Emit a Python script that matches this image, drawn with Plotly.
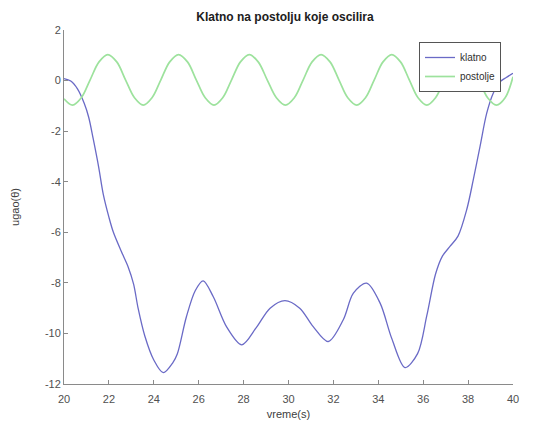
import plotly.graph_objects as go

# klatno (pendulum) angle
klatno_t = [20.0, 20.3, 20.6, 20.9, 21.1, 21.3, 21.55, 21.75, 22.0, 22.2, 22.55, 22.85,
            23.1, 23.3, 23.6, 24.0, 24.42, 24.85, 25.05, 25.45, 25.85, 26.2, 26.65,
            27.25, 27.92, 28.58, 29.18, 29.84, 30.5, 31.1, 31.77, 32.44, 32.89, 33.48,
            34.08, 34.6, 35.19, 35.75, 36.16, 36.55, 36.85, 37.2, 37.55, 37.94, 38.23,
            38.53, 38.83, 39.12, 39.42, 39.7, 40.0]
klatno_y = [0.08, -0.02, -0.33, -0.9, -1.45, -2.3, -3.45, -4.5, -5.4, -6.0, -6.75, -7.35,
            -8.05, -9.0, -10.1, -11.05, -11.55, -11.15, -10.8, -9.35, -8.3, -7.92, -8.55,
            -9.75, -10.45, -9.75, -9.0, -8.7, -9.0, -9.73, -10.32, -9.46, -8.41, -8.01,
            -8.8, -10.2, -11.35, -10.8, -9.3, -7.65, -6.95, -6.55, -6.15, -5.1, -3.93,
            -2.61, -1.29, -0.5, -0.05, 0.12, 0.29]

# postolje (base) oscillation
postolje_t = [20.0, 20.38, 20.77, 21.165, 21.56, 21.95, 22.35, 22.74, 23.14, 23.53, 23.92,
              24.315, 24.71, 25.10, 25.50, 25.89, 26.29, 26.68, 27.07, 27.465, 27.86, 28.25,
              28.65, 29.05, 29.46, 29.86, 30.26, 30.655, 31.05, 31.45, 31.85, 32.245, 32.64,
              33.04, 33.43, 33.82, 34.21, 34.60, 34.99, 35.38, 35.77, 36.16, 36.55, 36.94,
              37.33, 37.72, 38.10, 38.49, 38.87, 39.26, 39.65, 40.0]
postolje_y = [-0.72, -0.97, -0.68, 0.03, 0.74, 1.03, 0.74, 0.03, -0.68, -0.97, -0.68,
              0.03, 0.74, 1.03, 0.74, 0.03, -0.68, -0.97, -0.68, 0.03, 0.74, 1.03,
              0.74, 0.03, -0.68, -0.97, -0.68, 0.03, 0.74, 1.03, 0.74, 0.03, -0.68,
              -0.97, -0.68, 0.03, 0.74, 1.03, 0.74, 0.03, -0.68, -0.97, -0.68, 0.03,
              0.74, 1.03, 0.74, 0.03, -0.68, -0.97, -0.68, 0.15]

x_ticks = [20, 22, 24, 26, 28, 30, 32, 34, 36, 38, 40]
y_ticks = [-12, -10, -8, -6, -4, -2, 0, 2]

FONT = "Liberation Sans, Arial, sans-serif"

fig = go.Figure()
fig.add_trace(go.Scatter(x=klatno_t, y=klatno_y, mode="lines", name="klatno",
                         line=dict(color="#6a6ac6", width=1.3, shape="spline", smoothing=0.9)))
fig.add_trace(go.Scatter(x=postolje_t, y=postolje_y, mode="lines", name="postolje",
                         line=dict(color="#9de29d", width=1.7, shape="spline", smoothing=1.0)))

axis_common = dict(showgrid=False, zeroline=False, showline=True, linecolor="#8a8a8a",
                   linewidth=1, ticks="inside", ticklen=4, tickcolor="#8a8a8a",
                   tickfont=dict(family=FONT, size=11, color="#505050"), mirror=False,
                   automargin=False)

# the page body has an 8px default margin, so the figure is drawn 8px smaller
W, H = 525, 426
fig.update_layout(
    width=W, height=H,
    margin=dict(l=56, r=20, t=22, b=50, autoexpand=False),
    paper_bgcolor="white", plot_bgcolor="white",
    title=dict(text="<b>Klatno na postolju koje oscilira</b>", x=277 / W,
               xanchor="center", y=1 - 9 / H, yanchor="middle", yref="container",
               font=dict(family=FONT, size=12, color="#202020")),
    xaxis=dict(range=[20, 40], tickvals=x_ticks, ticktext=[str(v) for v in x_ticks],
               ticklabelstandoff=5,
               title=dict(text="vreme(s)", standoff=6,
                          font=dict(family=FONT, size=11, color="#404040")),
               **axis_common),
    yaxis=dict(range=[-12, 2], tickvals=y_ticks, ticktext=[str(v) for v in y_ticks],
               title=dict(text="ugao(θ)", standoff=23,
                          font=dict(family=FONT, size=11, color="#404040")),
               **axis_common),
    legend=dict(x=(501 - 64) / 449, xanchor="right", y=1 - (42 - 30) / 354, yanchor="top",
                bgcolor="white", bordercolor="#555555", borderwidth=1,
                font=dict(family=FONT, size=10, color="#303030"),
                tracegroupgap=0, itemwidth=30),
    showlegend=True,
)

fig.write_html("out.html")
